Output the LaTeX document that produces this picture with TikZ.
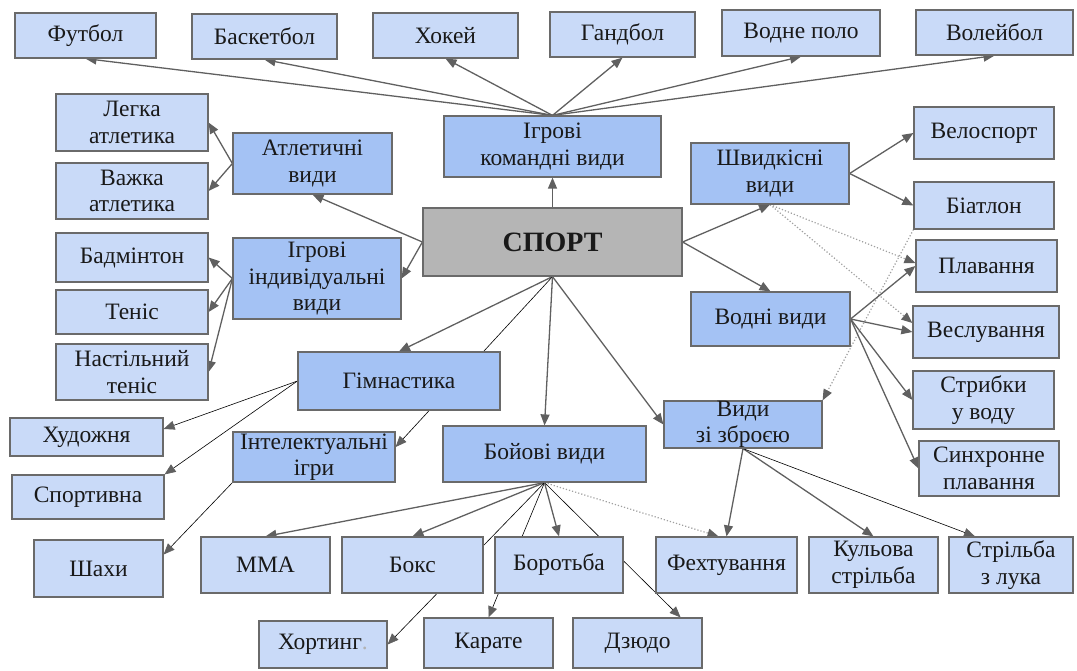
\documentclass[tikz,border=0pt]{standalone}
\usepackage{fontspec}
\setmainfont{Liberation Serif}
\usepackage{xcolor}
\usetikzlibrary{arrows.meta,backgrounds}
\definecolor{leafblue}{HTML}{C9DAF8}
\definecolor{groupblue}{HTML}{A4C2F4}
\definecolor{rootgray}{HTML}{B5B5B5}
\definecolor{boxline}{HTML}{6A6A6A}
\definecolor{linegray}{HTML}{606060}

\begin{document}
\begin{tikzpicture}[
  x=1pt, y=-1pt,
  every node/.style={rectangle,draw=boxline,line width=1.2pt,inner sep=0pt,align=center,
    text=black!90,font=\fontsize{23.5}{26.5}\selectfont},
  wh/.style 2 args={minimum width=#1,minimum height=#2},
  leaf/.style={fill=leafblue},
  group/.style={fill=groupblue},
  root/.style={fill=rootgray,font=\fontsize{28}{30}\selectfont\bfseries},
  arr/.style={draw=linegray,line width=1.3pt,-{Triangle[length=11pt,width=9pt]}},
  thin/.style={draw=black,line width=0.6pt,-{Triangle[length=11pt,width=9pt,color=linegray]}},
  dot/.style={draw=linegray!60,line width=1.2pt,dotted,-{Triangle[length=11pt,width=9pt,color=linegray]}}
]
  \useasboundingbox (0,0) rectangle (1077,670);

  % top row
  \node[leaf,wh={141}{45}] (futbol)    at (85.5,35.5)  {Футбол};
  \node[leaf,wh={145}{45}] (basket)    at (264.5,36.5) {Баскетбол};
  \node[leaf,wh={145}{45}] (hokei)     at (445.5,35.5) {Хокей};
  \node[leaf,wh={145}{45}] (handbol)   at (622.5,34.5) {Гандбол};
  \node[leaf,wh={158}{46}] (vodnepolo) at (801,33)     {Водне поло};
  \node[leaf,wh={157}{45}] (voleibol)  at (994.5,32.5) {Волейбол};

  % groups
  \node[root,wh={259}{68}]  (sport)  at (552.5,242)   {СПОРТ};
  \node[group,wh={217}{61}] (igrkom) at (552.5,146.5) {Ігрові\\командні види};
  \node[group,wh={159}{61}] (atlet)  at (312.5,163.5) {Атлетичні\\види};
  \node[group,wh={168}{81}] (igrind) at (317,278.5)   {Ігрові\\індивідуальні\\види};
  \node[group,wh={158}{61}] (shvyd)  at (770,173.5)   {Швидкісні\\види};
  \node[group,wh={159}{54}] (vodni)  at (770.5,319)   {Водні види};
  \node[group,wh={202}{58}] (gimn)   at (399,381)     {Гімнастика};
  \node[group,wh={162}{50}] (intel)  at (314,457)     {Інтелектуальні\\ігри};
  \node[group,wh={203}{56}] (boiovi) at (544.5,454)   {Бойові види};
  \node[group,wh={158}{47}] (zbroia) at (743,424.5)   {Види\\зі зброєю};

  % left side
  \node[leaf,wh={152}{57}] (legka)     at (132,122.5) {Легка\\атлетика};
  \node[leaf,wh={152}{56}] (vazhka)    at (132,191)   {Важка\\атлетика};
  \node[leaf,wh={152}{49}] (badminton) at (132,257.5) {Бадмінтон};
  \node[leaf,wh={152}{44}] (tenis)     at (132,312)   {Теніс};
  \node[leaf,wh={152}{56}] (nastil)    at (132,372)   {Настільний\\теніс};
  \node[leaf,wh={153}{38}] (khud)      at (86.5,437)  {Художня};
  \node[leaf,wh={152}{44}] (sportyvna) at (88,497)    {Спортивна};
  \node[leaf,wh={129}{57}] (shakhy)    at (98.5,568.5) {Шахи};

  % right side
  \node[leaf,wh={140}{52}] (velo)      at (984,133)    {Велоспорт};
  \node[leaf,wh={140}{47}] (biatlon)   at (984,205.5)  {Біатлон};
  \node[leaf,wh={141}{52}] (plavannia) at (986.5,266)  {Плавання};
  \node[leaf,wh={146}{52}] (veslu)     at (986,332)    {Веслування};
  \node[leaf,wh={141}{58}] (strybky)   at (983.5,400)  {Стрибки\\у воду};
  \node[leaf,wh={140}{55}] (synchr)    at (989,468.5)  {Синхронне\\плавання};

  % bottom rows
  \node[leaf,wh={129}{56}] (mma)      at (265.5,565) {ММА};
  \node[leaf,wh={141}{56}] (boks)     at (412.5,565) {Бокс};
  \node[leaf,wh={128}{56}] (borotba)  at (559,565)   {Боротьба};
  \node[leaf,wh={141}{56}] (fekht)    at (726.5,565) {Фехтування};
  \node[leaf,wh={129}{56}] (kulova)   at (873.5,565) {Кульова\\стрільба};
  \node[leaf,wh={124}{56}] (luk)      at (1011,565)  {Стрільба\\з лука};
  \node[leaf,wh={128}{47}] (khorting) at (323,644.5) {Хортинг{\color{black!30}.}};
  \node[leaf,wh={129}{50}] (karate)   at (488.5,643) {Карате};
  \node[leaf,wh={129}{50}] (dziudo)   at (637.5,643) {Дзюдо};

  \begin{scope}[on background layer]
    \draw[arr] (igrkom.north)--(futbol.south); \draw[arr] (igrkom.north)--(basket.south);
    \draw[arr] (igrkom.north)--(hokei.south); \draw[arr] (igrkom.north)--(handbol.south);
    \draw[arr] (igrkom.north)--(vodnepolo.south); \draw[arr] (igrkom.north)--(voleibol.south);

    \draw[arr] (sport.north)--(igrkom.south);
    \draw[arr] (sport.west)--(atlet.south); \draw[arr] (sport.west)--(igrind.east);
    \draw[arr] (sport.east)--(shvyd.south); \draw[arr] (sport.east)--(vodni.north);
    \draw[arr] (sport.south)--(gimn.north); \draw[thin] (sport.south)--([yshift=10pt]intel.east);
    \draw[arr] (sport.south)--(boiovi.north); \draw[arr] (sport.south)--(zbroia.west);

    \draw[arr] (atlet.west)--(legka.east); \draw[arr] (atlet.west)--(vazhka.east);
    \draw[arr] (igrind.west)--(badminton.east); \draw[arr] (igrind.west)--(tenis.east);
    \draw[arr] (igrind.west)--(nastil.east);

    \draw[thin] (gimn.west)--([yshift=8pt]khud.east); \draw[thin] (gimn.west)--(sportyvna.north east);
    \draw[thin] (intel.south west)--([yshift=14pt]shakhy.east);

    \draw[arr] (shvyd.east)--(velo.west); \draw[arr] (shvyd.east)--(biatlon.west);
    \draw[dot] (shvyd.south)--([yshift=3pt]plavannia.west); \draw[dot] (shvyd.south)--([yshift=9pt]veslu.west);
    \draw[dot] (biatlon.south west)--(zbroia.north east);

    \draw[arr] (vodni.east)--(plavannia.west); \draw[arr] (vodni.east)--(veslu.west);
    \draw[arr] (vodni.east)--(strybky.west); \draw[arr] (vodni.east)--(synchr.west);

    \draw[arr] (boiovi.south)--(mma.north); \draw[arr] (boiovi.south)--(boks.north);
    \draw[thin] (boiovi.south)--(khorting.east); \draw[thin] (boiovi.south)--(karate.north);
    \draw[arr] (boiovi.south)--(borotba.north); \draw[thin] (boiovi.south)--([xshift=-22pt]dziudo.north east);
    \draw[dot] (boiovi.south)--([xshift=-8pt]fekht.north);

    \draw[arr] (zbroia.south)--(fekht.north); \draw[arr] (zbroia.south)--(kulova.north);
    \draw[thin] (zbroia.south)--([xshift=-36pt]luk.north);
  \end{scope}
\end{tikzpicture}
\end{document}
